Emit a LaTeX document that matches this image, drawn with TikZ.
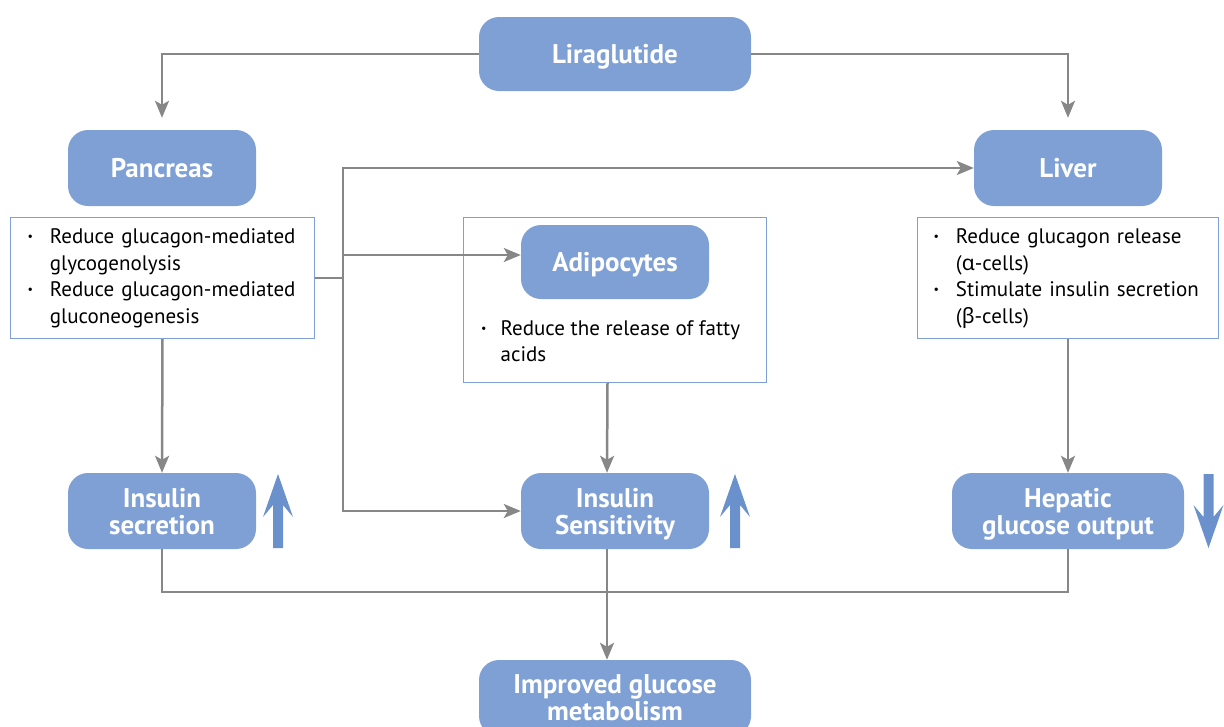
\documentclass[tikz,border=0pt]{standalone}
\usepackage{fontspec}
\setmainfont{PT Sans}
\newfontfamily\grk{Noto Sans}
\usetikzlibrary{arrows.meta}
\setlength{\parindent}{0pt}
\definecolor{boxblue}{HTML}{7FA0D4}
\definecolor{arrowblue}{HTML}{6A91CC}
\definecolor{linegray}{HTML}{878787}
\newcommand{\bul}{\raisebox{0.25ex}{\fontsize{12}{12}\selectfont •}}

\tikzset{
  organ/.style={rectangle, rounded corners=20pt, fill=boxblue, text=white,
    font=\bfseries\fontsize{27}{27}\selectfont, align=center, text depth=0pt,
    minimum width=188pt, minimum height=76pt, inner sep=0pt},
  listbox/.style={rectangle, draw=boxblue, line width=1pt, inner xsep=17pt, inner ysep=0pt,
    text width=270pt, align=left, anchor=north west, font=\fontsize{21}{26.5}\selectfont},
  link/.style={draw=linegray, line width=2.5pt, -{Stealth[length=17pt,width=14pt,inset=4pt]}},
  wire/.style={draw=linegray, line width=2.5pt},
  uparrow/.pic={\fill[arrowblue] (0,0) -- (15,43) -- (5,31) -- (5,74) -- (-5,74) -- (-5,31) -- (-15,43) -- cycle;}
}

\begin{document}
\begin{tikzpicture}[x=1pt,y=-1pt]
    \useasboundingbox (0,0) rectangle (1224,726);

    \node[organ, minimum width=272pt, minimum height=74pt] (lira) at (615,54) {Liraglutide};
    \node[organ] (panc) at (162,168) {Pancreas};
    \node[organ] (liver) at (1068,168) {Liver};

    \node[listbox, minimum height=121pt] (pancbox) at (10,217) {%
      \begin{tabular}{@{}l@{\hspace{17pt}}l@{}}
      \bul & Reduce glucagon-mediated\\
           & glycogenolysis\\
      \bul & Reduce glucagon-mediated\\
           & gluconeogenesis
      \end{tabular}};
    \node[listbox, minimum height=121pt, text width=269pt, inner xsep=16pt] (liverbox) at (917,217) {%
      \begin{tabular}{@{}l@{\hspace{17pt}}l@{}}
      \bul & Reduce glucagon release\\
           & ({\grk α}-cells)\\
      \bul & Stimulate insulin secretion\\
           & ({\grk β}-cells)
      \end{tabular}};
    \node[draw=boxblue, line width=1pt, anchor=north west, minimum width=303pt, minimum height=165pt, inner sep=0pt] (fatbox) at (463,217) {};
    \node[organ, minimum height=74pt] (adipo) at (615,262) {Adipocytes};
    \node[anchor=west, inner sep=0pt, align=left, font=\fontsize{21}{26.5}\selectfont] (fattext) at (481,343) {%
      \begin{tabular}{@{}l@{\hspace{14pt}}l@{}}
      \bul & Reduce the release of fatty\\
           & acids
      \end{tabular}};

    \node[organ] (secr) at (162,511) {Insulin\\secretion};
    \node[organ] (sens) at (615,511) {Insulin\\Sensitivity};
    \node[organ, minimum width=232pt] (hep) at (1068,511) {Hepatic\\glucose output};
    \node[organ, minimum width=272pt] (result) at (615,698) {Improved glucose\\metabolism};

    \pic at (278,474) {uparrow};
    \pic at (735,474) {uparrow};
    \pic[rotate=180] at (1208.5,548) {uparrow};

    \coordinate (hub) at (343,278);
    \coordinate (join) at (607,592);

    \draw[link, shorten >=12pt] (lira.west) -| (panc.north);
    \draw[link, shorten >=12pt] (lira.east) -| (liver.north);
    \draw[link] (pancbox.east |- hub) -- (hub) |- (liver.west);
    \draw[link] (hub) |- ([yshift=7pt]adipo.west);
    \draw[link] (hub) |- (sens.west);
    \draw[link] (pancbox.south) -- (secr.north);
    \draw[link] ([xshift=-7.5pt]fatbox.south) -- ([xshift=-8pt]sens.north);
    \draw[link] (liverbox.south) -- (hep.north);
    \draw[wire] (secr.south) |- (join) -| (hep.south);
    \draw[link] ([xshift=-8pt]sens.south) -- ([xshift=-8pt]result.north);
\end{tikzpicture}
\end{document}
